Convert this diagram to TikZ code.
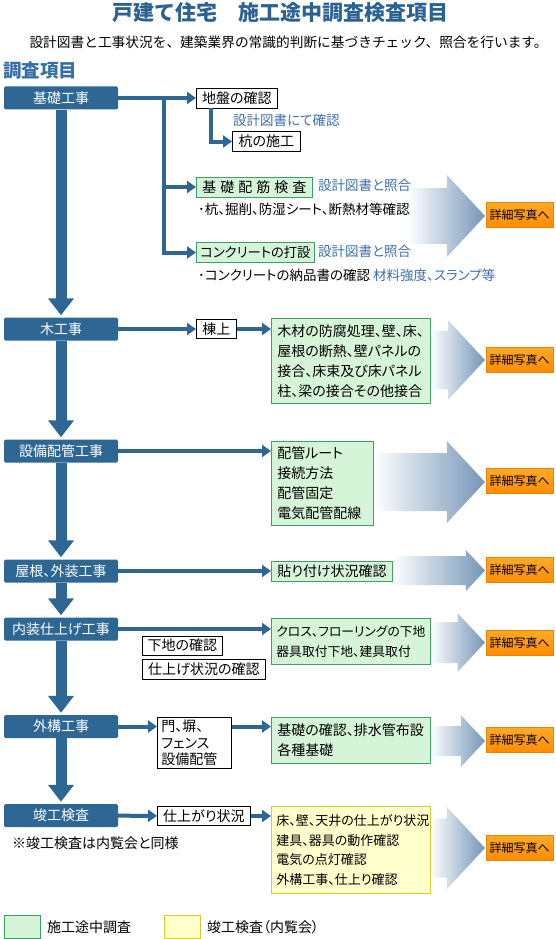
\documentclass[tikz,border=0pt]{standalone}
\usepackage{fontspec}
\setmainfont{Noto Sans CJK JP}[RawFeature=+palt]
\newfontfamily\fixedfont{Noto Sans CJK JP}
\usetikzlibrary{arrows.meta}
\usetikzlibrary{positioning}
\definecolor{kblue}{RGB}{46,103,148}
\definecolor{ktitle}{RGB}{44,98,145}
\definecolor{kheading}{RGB}{52,110,165}
\definecolor{kannot}{RGB}{58,112,168}
\definecolor{kgreen}{RGB}{214,245,216}
\definecolor{kgreenline}{RGB}{64,158,104}
\definecolor{kyellow}{RGB}{255,255,204}
\definecolor{kyellowline}{RGB}{208,208,50}
\definecolor{karrow}{RGB}{117,150,184}
\definecolor{kbtntop}{RGB}{255,170,40}
\definecolor{kbtnbot}{RGB}{255,140,0}
\definecolor{kbtnline}{RGB}{235,130,0}
\tikzset{mainbox/.style = {fill=kblue, text=white, rounded corners=1.5pt, minimum width=114pt,
    minimum height=23pt, inner sep=0pt, font=\fontsize{14}{14}\selectfont}}
\tikzset{trunk/.style = {kblue, line width=11pt, -{Triangle[width=25pt, length=17pt]}, shorten >=2pt}}
\tikzset{conn/.style = {kblue, line width=4pt, -{Triangle[width=12pt, length=9pt]}}}
\tikzset{plainbox/.style = {draw, line width=0.8pt, fill=white, anchor=west, inner xsep=4pt,
    inner ysep=0pt, minimum height=20pt, font=\fontsize{14}{14}\selectfont}}
\tikzset{checkbox/.style = {draw=kgreenline, line width=0.8pt, fill=kgreen, anchor=north west,
    align=left, inner xsep=6pt, inner ysep=0pt, font=\fontsize{14}{20}\selectfont}}
\tikzset{finalbox/.style = {checkbox, draw=kyellowline, fill=kyellow}}
\tikzset{note/.style = {anchor=west, inner sep=0pt, font=\fontsize{13.5}{13.5}\selectfont}}
\tikzset{bluenote/.style = {note, text=kannot}}
\tikzset{photobtn/.style = {draw=kbtnline, line width=0.8pt, top color=kbtntop, bottom color=kbtnbot,
    minimum width=67pt, minimum height=25pt, inner sep=0pt, font=\fixedfont\fontsize{12}{12}\selectfont}}
\newcommand{\detailarrow}[4]{% left x, centre y, shaft half, head half
  \shade[left color=white, right color=karrow]
    (#1,{#2-#3}) -- ({485-0.93*#4},{#2-#3}) -- ({485-0.93*#4},{#2-#4}) -- (485,#2)
    -- ({485-0.93*#4},{#2+#4}) -- ({485-0.93*#4},{#2+#3}) -- (#1,{#2+#3}) -- cycle;}

\begin{document}
\begin{tikzpicture}[x=1pt, y=-1pt]
    \useasboundingbox (0,0) rectangle (555,939);

    \node [text=ktitle, font=\fixedfont\bfseries\fontsize{21}{21}\selectfont] (title) at (280,13)
        {戸建て住宅　施工途中調査検査項目};
    \node [font=\fixedfont\fontsize{13.7}{13.7}\selectfont] (subtitle) at (288.5,42)
        {設計図書と工事状況を、建築業界の常識的判断に基づきチェック、照合を行います。};
    \node [anchor=west, inner sep=0pt, text=kheading, font=\fixedfont\bfseries\fontsize{18.5}{18.5}\selectfont]
        (heading) at (3,71) {調査項目};

    % arrows to the photos
    \detailarrow{408}{216}{28}{41}
    \detailarrow{430}{360}{29}{40}
    \detailarrow{373}{482}{29}{41}
    \detailarrow{392}{570.5}{14.5}{20.5}
    \detailarrow{430}{642.5}{20.5}{29.5}
    \detailarrow{430}{741}{15}{26}
    \detailarrow{430}{848}{29.5}{41}

    % main work stages
    \node [mainbox] (kiso) at (61,98) {基礎工事};
    \node [mainbox] (moku) at (61,329) {木工事};
    \node [mainbox] (setsubi) at (61,451) {設備配管工事};
    \node [mainbox] (yane) at (61,571) {屋根、外装工事};
    \node [mainbox] (naisou) at (61,629) {内装仕上げ工事};
    \node [mainbox] (gaikou) at (61,726.5) {外構工事};
    \node [mainbox] (shunkou) at (61,815.5) {竣工検査};

    \draw [trunk] (kiso) -- (moku);
    \draw [trunk] (moku) -- (setsubi);
    \draw [trunk] (setsubi) -- (yane);
    \draw [trunk] (yane) -- (naisou);
    \draw [trunk] (naisou) -- (gaikou);
    \draw [trunk] (gaikou) -- (shunkou);

    % foundation
    \node [plainbox, minimum width=81pt] (jiban) at (196,98) {地盤の確認};
    \node [bluenote] (jibannote) at (233,120) {設計図書にて確認};
    \node [plainbox, minimum width=68pt] (kui) at (232,141.5) {杭の施工};
    \node [checkbox, anchor=west, minimum width=116pt, minimum height=20pt] (haikin) at (196,187)
        {基\kern4pt 礎\kern4pt 配\kern4pt 筋\kern4pt 検\kern4pt 査};
    \node [bluenote] (haikinnote) at (318,185) {設計図書と照合};
    \node [note] (haikinitems) at (198,209.5) {･杭、掘削、防湿シート、断熱材等確認};
    \node [checkbox, anchor=west, minimum width=116pt, minimum height=20pt, inner xsep=4pt,
        font=\fontsize{13.3}{13.3}\selectfont] (concrete) at (196,252.5) {コンクリートの打設};
    \node [bluenote] (concretenote) at (318,251) {設計図書と照合};
    \node [note] (concreteitems) at (198,275.5)
        {･コンクリートの納品書の確認 \textcolor{kannot}{材料強度、スランプ等}};

    \coordinate (kisobranch) at (164,98);
    \draw [conn] (kiso) -- (jiban);
    \draw [conn] (kisobranch) |- (haikin.west);
    \draw [conn] (kisobranch) |- (concrete.west);
    \draw [conn] ([xshift=15pt]jiban.south west) |- (kui.west);

    % carpentry
    \node [plainbox, minimum width=40pt, minimum height=19pt] (mune) at (196,329) {棟上};
    \node [checkbox, text width=147pt, minimum height=85pt] (mokucheck) at (271,318)
        {木材の防腐処理、壁、床、\\屋根の断熱、壁パネルの\\接合、床束及び床パネル\\柱、梁の接合その他接合};
    \draw [conn] (moku) -- (mune);
    \draw [conn] (mune.east) -- (mune.east -| mokucheck.west);

    % piping
    \node [checkbox, text width=90pt, minimum height=84pt] (setsubicheck) at (271,441)
        {配管ルート\\接続方法\\配管固定\\電気配管配線};
    \draw [conn] (setsubi.east) -- (setsubi.east -| setsubicheck.west);

    % roof and exterior
    \node [checkbox, anchor=west, text width=109pt, minimum height=20pt] (yanecheck) at (271,571)
        {貼り付け状況確認};
    \draw [conn] (yane.east) -- (yane.east -| yanecheck.west);

    % interior finish
    \node [plainbox, minimum width=80pt, minimum height=19pt] (shitaji) at (142,645.5) {下地の確認};
    \node [plainbox, minimum width=123pt] (shiage) at (142,669) {仕上げ状況の確認};
    \node [checkbox, text width=149pt, inner xsep=5pt, minimum height=46pt,
        font=\fontsize{12.8}{20}\selectfont] (naisoucheck) at (271,618)
        {クロス、フローリングの下地\\器具取付下地、建具取付};
    \draw [conn] (naisou.east) -- (naisou.east -| naisoucheck.west);

    % exterior works
    \node [plainbox, anchor=north west, align=left, text width=66pt, minimum height=51pt,
        font=\fontsize{14}{16.5}\selectfont] (mon) at (157,717) {門、塀、\\フェンス\\設備配管};
    \node [checkbox, text width=147pt, minimum height=46pt] (gaikoucheck) at (271,717)
        {基礎の確認、排水管布設\\各種基礎};
    \draw [conn] (gaikou.east) -- (gaikou.east -| mon.west);
    \draw [conn] (gaikou.east -| mon.east) -- (gaikou.east -| gaikoucheck.west);

    % completion
    \node [plainbox, minimum width=93pt, minimum height=19pt] (shiagari) at (157,816) {仕上がり状況};
    \node [finalbox, text width=149pt, inner xsep=5pt, minimum height=87pt,
        font=\fontsize{13}{19.5}\selectfont] (shunkoucheck) at (271,806)
        {床、壁、天井の仕上がり状況\\建具、器具の動作確認\\電気の点灯確認\\外構工事、仕上り確認};
    \node [note, font=\fontsize{14}{14}\selectfont] (shunkounote) at (12,843) {※竣工検査は内覧会と同様};
    \draw [conn] (shunkou) -- (shiagari);
    \draw [conn] (shiagari.east) -- (shiagari.east -| shunkoucheck.west);

    \node [photobtn] (photo1) at (519.5,214.5) {詳細写真へ};
    \node [photobtn] (photo2) at (519.5,359.5) {詳細写真へ};
    \node [photobtn] (photo3) at (519.5,481) {詳細写真へ};
    \node [photobtn] (photo4) at (519.5,570) {詳細写真へ};
    \node [photobtn] (photo5) at (519.5,642.5) {詳細写真へ};
    \node [photobtn] (photo6) at (519.5,740) {詳細写真へ};
    \node [photobtn] (photo7) at (519.5,847.5) {詳細写真へ};

    % legend
    \node [draw=kgreenline, line width=0.8pt, fill=kgreen, minimum width=36pt, minimum height=23pt,
        anchor=north west] (legendgreen) at (4,915) {};
    \node [note, font=\fontsize{14}{14}\selectfont, right=6pt of legendgreen] (legendgreentext) {施工途中調査};
    \node [draw=kyellowline, line width=0.8pt, fill=kyellow, minimum width=36pt, minimum height=23pt,
        anchor=north west] (legendyellow) at (164,915) {};
    \node [note, font=\fontsize{14}{14}\selectfont, right=6pt of legendyellow] (legendyellowtext)
        {竣工検査（内覧会）};
\end{tikzpicture}
\end{document}
